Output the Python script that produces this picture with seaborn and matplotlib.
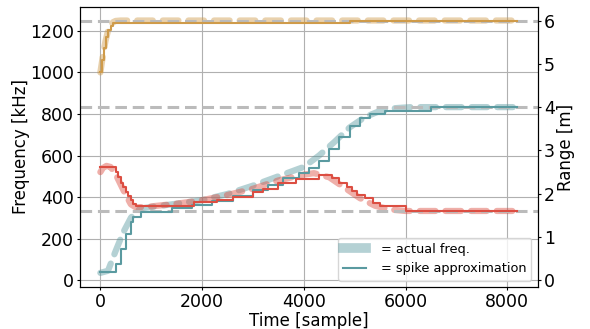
import seaborn as sns
import matplotlib.pyplot as plt
from matplotlib.lines import Line2D

# actual frequency curves (kHz) vs time (samples)
gold_t = [0, 50, 100, 150, 200, 250, 300, 400, 8200]
gold_f = [1000, 1080, 1150, 1200, 1228, 1242, 1248, 1250, 1250]
teal_t = [0, 150, 300, 450, 600, 700, 800, 1000, 1500, 2000, 2500, 3000, 3500, 4000,
          4300, 4600, 4900, 5200, 5500, 5800, 6100, 8200]
teal_f = [35, 45, 140, 230, 300, 330, 345, 352, 368, 385, 415, 455, 500, 545,
          600, 665, 735, 785, 815, 828, 833, 833]
red_t = [0, 50, 120, 200, 300, 400, 500, 600, 700, 1000, 1500, 2000, 2500, 3000, 3500,
         4000, 4200, 4500, 4800, 5100, 5400, 5700, 6000, 8200]
red_f = [520, 540, 550, 545, 510, 460, 410, 365, 350, 355, 368, 385, 410, 440, 480,
         508, 515, 495, 445, 395, 358, 340, 333, 333]

# spike approximation (step functions)
gold_st = [0, 40, 80, 120, 160, 200, 250, 4900, 8200]
gold_sf = [1000, 1060, 1120, 1170, 1205, 1225, 1236, 1250, 1250]
teal_st = [0, 230, 300, 400, 500, 600, 650, 800, 1400, 1800, 2200, 2600, 3000, 3300,
           3600, 3900, 4100, 4300, 4500, 4700, 4900, 5100, 5300, 5600, 6500, 8200]
teal_sf = [40, 40, 80, 150, 220, 280, 305, 330, 345, 360, 380, 405, 435, 460,
           490, 515, 540, 575, 630, 690, 740, 780, 800, 815, 833, 833]
red_st = [0, 250, 300, 350, 400, 450, 500, 550, 600, 650, 700, 1850, 2300, 2600, 3000,
          3200, 3500, 3850, 4300, 4550, 4700, 4850, 4950, 5050, 5200, 5350, 5500, 6000, 8200]
red_sf = [546, 546, 520, 495, 470, 450, 425, 405, 385, 365, 355, 375, 388, 400, 425,
          440, 468, 485, 506, 490, 470, 448, 430, 412, 394, 372, 356, 333, 333]

targets = [1250, 833.3, 333.3]
khz_per_m = 208.33

colors = {"gold": "#cf9b4a", "teal": "#5a9aa0", "red": "#dc4e42"}

fig = plt.figure(figsize=(5.9, 3.29), dpi=100)
ax = fig.add_axes([0.1356, 0.1277, 0.776, 0.851])

for y in targets:
    ax.axhline(y, color="#bbbbbb", lw=2.2, ls=(0, (3.8, 1.9)), zorder=2.5)

series = [("gold", gold_t, gold_f, gold_st, gold_sf),
          ("teal", teal_t, teal_f, teal_st, teal_sf),
          ("red", red_t, red_f, red_st, red_sf)]
for name, t, f, st, sf in series:
    c = colors[name]
    sns.lineplot(x=t, y=f, ax=ax, color=c, lw=4.5, alpha=0.45, sort=False,
                 estimator=None, linestyle=(0, (2.5, 1.6)), dash_capstyle="round",
                 zorder=2)
    sns.lineplot(x=st, y=sf, ax=ax, color=c, lw=1.5, sort=False,
                 estimator=None, drawstyle="steps-post", zorder=3)

ax.set_xlim(-400, 8600)
ylo, yhi = -33, 1315
ax.set_ylim(ylo, yhi)
ax.set_xticks([0, 2000, 4000, 6000, 8000])
ax.set_yticks([0, 200, 400, 600, 800, 1000, 1200])
ax.grid(True, color="#b0b0b0", lw=0.8)
ax.tick_params(labelsize=12.5, length=2.5, pad=1.8)
ax.set_xlabel("Time [sample]", fontsize=12)
ax.set_ylabel("Frequency [kHz]", fontsize=12)
ax.xaxis.set_label_coords(0.5, -0.09)
ax.yaxis.set_label_coords(-0.109, 0.5)

ax2 = ax.twinx()
ax2.set_ylim(ylo / khz_per_m, yhi / khz_per_m)
ax2.set_yticks([0, 1, 2, 3, 4, 5, 6])
ax2.tick_params(labelsize=12.5, length=2.5, pad=1.8)
ax2.set_ylabel("Range [m]", fontsize=12)
ax2.yaxis.set_label_coords(1.041, 0.5)

handles = [Line2D([], [], color=colors["teal"], lw=7, alpha=0.45),
           Line2D([], [], color=colors["teal"], lw=1.5)]
ax.legend(handles, ["= actual freq.", "= spike approximation"], loc="lower right",
          fontsize=9.3, handlelength=1.8, handletextpad=1.1)

fig.savefig("out.png", dpi=100)
